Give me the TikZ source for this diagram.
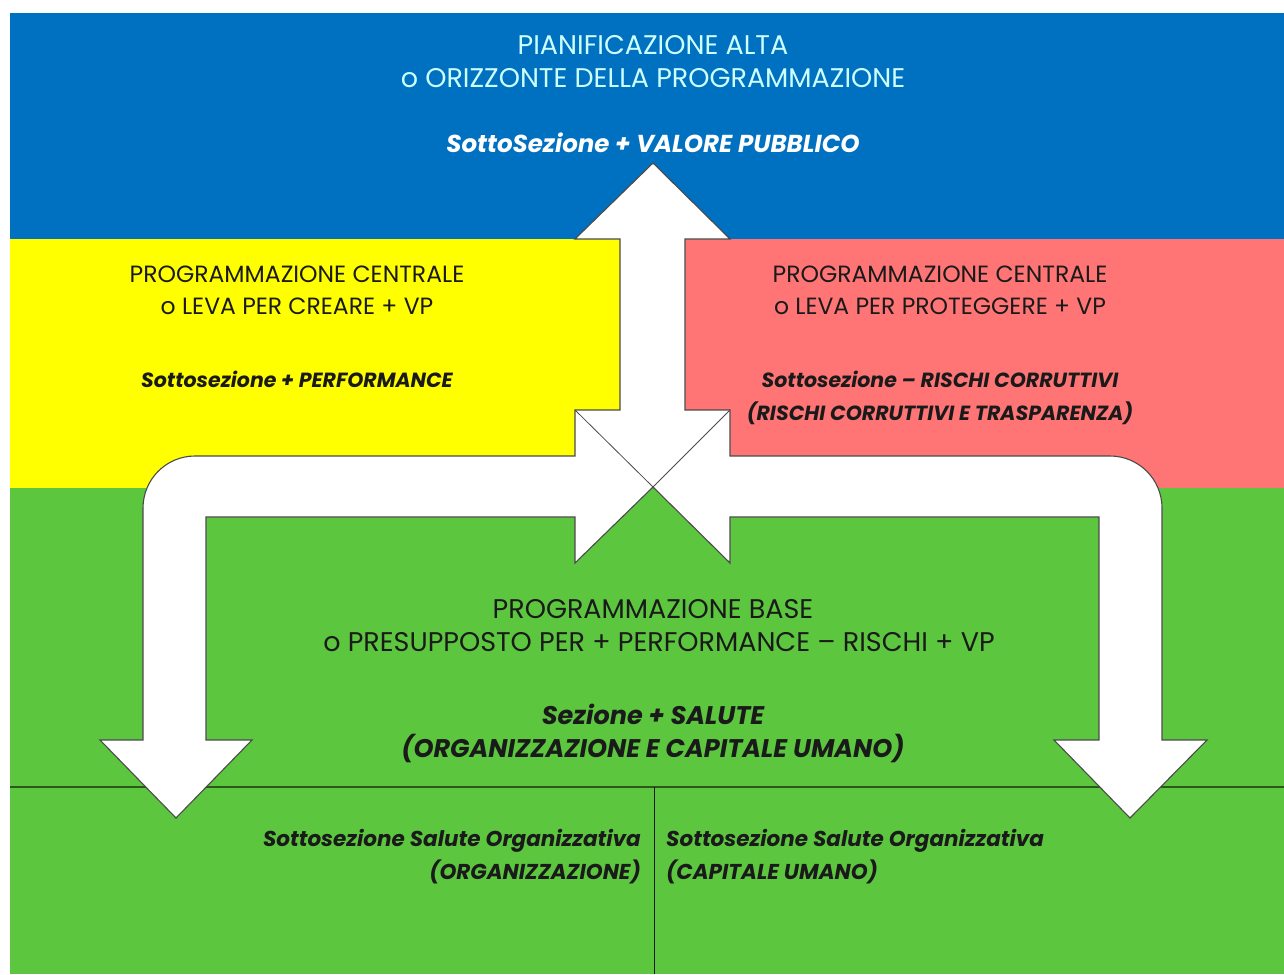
\documentclass[tikz,border=0pt]{standalone}
\usepackage{fontspec}
\setmainfont{Poppins}
\definecolor{bandblue}{HTML}{0070C0}
\definecolor{bandyellow}{HTML}{FFFF00}
\definecolor{bandred}{HTML}{FF7575}
\definecolor{bandgreen}{HTML}{5CC63F}
\definecolor{titlecyan}{HTML}{CCFFFF}
\definecolor{arrowline}{HTML}{4A4A4A}
\definecolor{inktext}{HTML}{1A1A1A}

\begin{document}
\begin{tikzpicture}[x=1pt, y=-1pt,
    every node/.style={inner sep=0pt, text=inktext},
    plainLine/.style={anchor=base, font=\fontsize{#1}{#1}\selectfont},   % upper-case lines
    sectionLine/.style={anchor=base, font=\fontsize{#1}{#1}\selectfont\bfseries\itshape},
    bigArrow/.style={fill=white, draw=arrowline, line width=1.1pt, line join=miter},
    crossLine/.style={draw=arrowline, line width=0.8pt},
    splitLine/.style={draw=black!55!bandgreen, line width=1.6pt}
  ]

  \useasboundingbox[fill=white] (0,0) rectangle (1284,974);

  % coloured bands
  \fill[bandblue] (10,13) rectangle (1284,239);
  \fill[bandyellow] (10,239) rectangle (653,488);
  \fill[bandred] (653,239) rectangle (1284,488);
  \fill[bandgreen] (10,488) rectangle (1284,974);
  \draw[splitLine] (10,787) -- (1284,787);
  \draw[line width=0.9pt, draw=inktext] (654,787) -- (654,974);

  % the white arrow block
  \draw[bigArrow] (653,163) -- (730,239) -- (685,239) -- (685,410) -- (730,410) -- (730,456) -- (1110,456)
    arc[start angle=-90, end angle=0, radius=52] -- (1162,740) -- (1207,740) -- (1130,818) -- (1054,740)
    -- (1099,740) -- (1099,517) -- (730,517) -- (730,563) -- (653,487) -- (575,563) -- (575,517)
    -- (206,517) -- (206,740) -- (252,740) -- (176,818) -- (100,740) -- (143,740) -- (143,508)
    arc[start angle=180, end angle=270, radius=52] -- (575,456) -- (575,410) -- (620,410)
    -- (620,239) -- (575,239) -- cycle;
  \draw[crossLine] (575,410) -- (653,487) -- (730,410);

  % top band
  \node[plainLine=27, text=titlecyan] (topTitle) at (653,55) {PIANIFICAZIONE ALTA};
  \node[plainLine=27, text=titlecyan] (topSub) at (653,88) {o ORIZZONTE DELLA PROGRAMMAZIONE};
  \node[sectionLine=24.5, text=white] (topSection) at (653,152) {SottoSezione + VALORE PUBBLICO};

  % left band
  \node[plainLine=23.5] (leftTitle) at (297,282) {PROGRAMMAZIONE CENTRALE};
  \node[plainLine=23.5] (leftSub) at (297,314) {o LEVA PER CREARE + VP};
  \node[sectionLine=20.5] (leftSection) at (297,387) {Sottosezione + PERFORMANCE};

  % right band
  \node[plainLine=23.5] (rightTitle) at (940,282) {PROGRAMMAZIONE CENTRALE};
  \node[plainLine=23.5] (rightSub) at (940,314) {o LEVA PER PROTEGGERE + VP};
  \node[sectionLine=20.5] (rightSection) at (940,387) {Sottosezione – RISCHI CORRUTTIVI};
  \node[sectionLine=20.5] (rightExtra) at (940,420) {(RISCHI CORRUTTIVI E TRASPARENZA)};

  % base band
  \node[plainLine=27] (baseTitle) at (653,618) {PROGRAMMAZIONE BASE};
  \node[plainLine=27] (baseSub) at (659,651) {o PRESUPPOSTO PER + PERFORMANCE – RISCHI + VP};
  \node[sectionLine=25.5] (baseSection) at (653,724) {Sezione + SALUTE};
  \node[sectionLine=25.5] (baseExtra) at (653,757) {(ORGANIZZAZIONE E CAPITALE UMANO)};

  % two sub-sections
  \node[sectionLine=21.5, anchor=base east] (orgName) at (641,846) {Sottosezione Salute Organizzativa};
  \node[sectionLine=21.5, anchor=base east] (orgPart) at (641,879) {(ORGANIZZAZIONE)};
  \node[sectionLine=21.5, anchor=base west] (humName) at (666,846) {Sottosezione Salute Organizzativa};
  \node[sectionLine=21.5, anchor=base west] (humPart) at (666,879) {(CAPITALE UMANO)};
\end{tikzpicture}
\end{document}
